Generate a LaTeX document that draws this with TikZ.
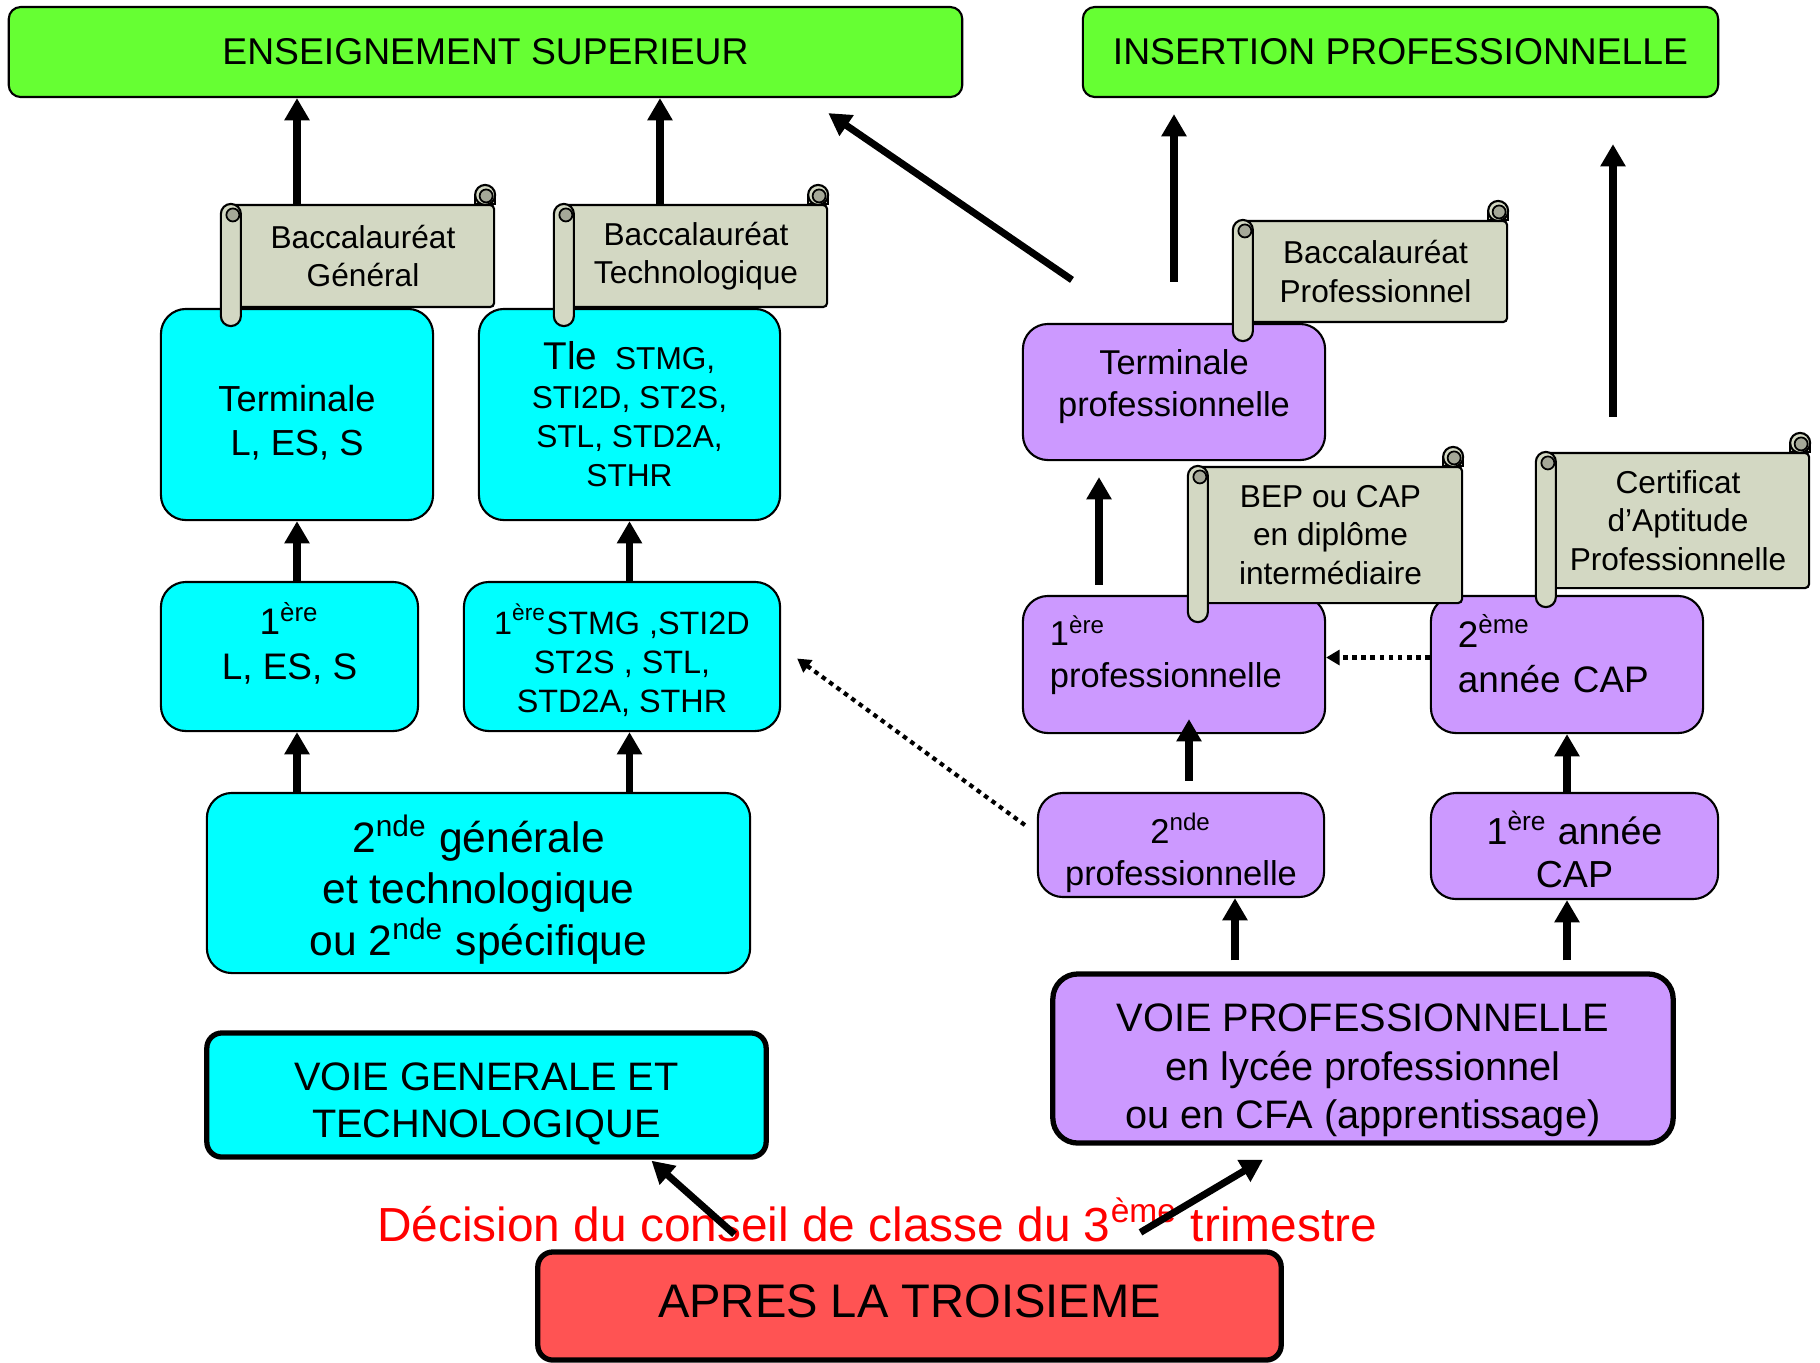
\documentclass[tikz,border=0pt]{standalone}
\usepackage{fontspec}
\setmainfont{Liberation Sans}
\usetikzlibrary{arrows.meta}
\definecolor{supgreen}{HTML}{66FF33}
\definecolor{gtcyan}{HTML}{00FFFF}
\definecolor{promauve}{HTML}{CC99FF}
\definecolor{paper}{HTML}{D3D8C3}
\definecolor{paperdark}{HTML}{A5A898}
\definecolor{startred}{HTML}{FF5353}

\newcommand{\nudge}[3][c]{\raisebox{#2}[\height][\depth]{\begin{tabular}{@{}#1@{}}#3\end{tabular}}}
\newcommand{\scrollroll}[1]{%
  \filldraw[fill=paper,line width=0.6pt,rounded corners=0.1cm] ([shift={(-10,0)}]#1.north west) rectangle ([shift={(10,18)}]#1.south west);
  \filldraw[fill=paperdark,line width=0.5pt] ([shift={(2,11)}]#1.north west) circle[radius=0.065cm];
  \filldraw[fill=paper,line width=0.6pt] ([shift={(-20,-9)}]#1.north east) rectangle (#1.north east);
  \filldraw[fill=paper,line width=0.6pt] ([shift={(-10,-9)}]#1.north east) circle[radius=0.1cm];
  \filldraw[fill=paperdark,line width=0.5pt] ([shift={(-9,-8)}]#1.north east) circle[radius=0.065cm];
}

\begin{document}
\begin{tikzpicture}[x=0.01cm,y=-0.01cm]
\tikzset{box/.style={draw,line width=0.6pt,rounded corners=0.25cm,align=center,inner sep=0pt},
    sz/.style 2 args={minimum width=#1cm,minimum height=#2cm},
    gt/.style={box,fill=gtcyan},
    pro/.style={box,fill=promauve},
    goal/.style={box,fill=supgreen,rounded corners=0.12cm,font=\fontsize{10.6}{12.7}\selectfont},
    diploma/.style={draw,line width=0.6pt,fill=paper,rounded corners=0.04cm,align=center,inner sep=0pt,font=\fontsize{9}{10.9}\selectfont},
    thickbox/.style={line width=1.5pt},
    upar/.style={line width=2pt,-{Triangle[length=6.3pt,width=6.8pt]}},
    dotar/.style={line width=1.2pt,dash pattern=on 1.3pt off 1.3pt,-{Triangle[length=3.8pt,width=4.2pt]}}}
\useasboundingbox (0,0) rectangle (1820,1362);
\node[goal,sz={9.53}{0.90}] (ens) at (485.5,52) {ENSEIGNEMENT SUPERIEUR};
\node[goal,sz={6.35}{0.90}] (ins) at (1400.5,52) {INSERTION PROFESSIONNELLE};
\node[gt,sz={2.72}{2.11},font=\fontsize{10.3}{12.5}\selectfont] (terml) at (297,414.5) {\nudge{-2.8pt}{Terminale\\L, ES, S}};
\node[gt,sz={3.01}{2.11},font=\fontsize{9}{11.1}\selectfont] (tlest) at (629.5,414.5) {{\fontsize{11}{13}\selectfont Tle}\ \ STMG,\\STI2D, ST2S,\\STL, STD2A,\\STHR};
\node[gt,sz={2.57}{1.49},font=\fontsize{10.5}{12.8}\selectfont] (prel) at (289.5,656.5) {\nudge{2.5pt}{1\textsuperscript{ère}\\L, ES, S}};
\node[gt,sz={3.16}{1.49},font=\fontsize{9.2}{11.1}\selectfont] (prest) at (622,656.5) {\nudge{-2.2pt}{1\textsuperscript{ère}STMG ,STI2D\\ST2S , STL,\\STD2A, STHR}};
\node[gt,sz={5.43}{1.80},font=\fontsize{12.1}{14.5}\selectfont] (snde) at (478.5,883) {\nudge{-2.8pt}{2\textsuperscript{nde} générale\\et technologique\\ou 2\textsuperscript{nde} spécifique}};
\node[gt,thickbox,rounded corners=0.15cm,sz={5.59}{1.24},font=\fontsize{11.3}{13.5}\selectfont] (vgen) at (486.5,1095) {\nudge{-2.7pt}{VOIE GENERALE ET\\TECHNOLOGIQUE}};
\node[box,thickbox,fill=startred,rounded corners=0.15cm,sz={7.43}{1.08},font=\fontsize{13.4}{16}\selectfont] (apres) at (909.5,1306) {\nudge{0pt}{APRES LA TROISIEME}};
\node[pro,thickbox,sz={6.20}{1.69},font=\fontsize{11.3}{13.7}\selectfont] (vpro) at (1363,1058.5) {\nudge{-3.4pt}{VOIE PROFESSIONNELLE\\en lycée professionnel\\ou en CFA (apprentissage)}};
\node[pro,sz={2.86}{1.04},font=\fontsize{9.8}{11.9}\selectfont] (sndp) at (1181,845) {\nudge{-3pt}{2\textsuperscript{nde}\\professionnelle}};
\node[pro,sz={2.87}{1.06},font=\fontsize{10.7}{12.3}\selectfont] (pcap) at (1574.5,846) {\nudge{-2.7pt}{1\textsuperscript{ère} année\\CAP}};
\node[pro,align=left,text width=2.48cm,inner xsep=0.27cm,minimum height=1.37cm,font=\fontsize{9.8}{11.8}\selectfont] (ppro) at (1174,664.5) {\nudge[l]{2pt}{1\textsuperscript{ère}\\professionnelle}};
\node[pro,align=left,text width=2.18cm,inner xsep=0.27cm,minimum height=1.37cm,font=\fontsize{10.5}{12.8}\selectfont] (dcap) at (1567,664.5) {\nudge[l]{1.2pt}{2\textsuperscript{ème}\\année CAP}};
\node[pro,sz={3.02}{1.36},font=\fontsize{9.8}{11.9}\selectfont] (tpro) at (1174,392) {\nudge{1.4pt}{Terminale\\professionnelle}};
\node[diploma,sz={2.62}{1.02}] (bacg) at (363,256) {Baccalauréat\\Général};
\scrollroll{bacg}
\node[diploma,sz={2.62}{1.02}] (bact) at (696,256) {Baccalauréat\\Technologique};
\scrollroll{bact}
\node[diploma,sz={2.63}{1.01}] (bacp) at (1375.5,271.5) {Baccalauréat\\Professionnel};
\scrollroll{bacp}
\node[diploma,sz={2.63}{1.36}] (bep) at (1330.5,535) {BEP ou CAP\\en diplôme\\intermédiaire};
\scrollroll{bep}
\node[diploma,sz={2.62}{1.35}] (capc) at (1678,520.5) {Certificat\\d’Aptitude\\Professionnelle};
\scrollroll{capc}
\node[text=red,anchor=base,font=\fontsize{13.6}{16}\selectfont] (conseil) at (877,1241) {Décision du conseil de classe du 3\textsuperscript{ème} trimestre};
\draw[upar] (terml.north |- bacg.north) -- (terml.north |- ens.south);
\draw[upar] ([xshift=-0.36cm]bact.north) -- ([xshift=-0.36cm]bact.north |- ens.south);
\draw[upar] ([shift={(-102,-43)}]tpro.north) -- ([shift={(-135,15)}]ens.south east);
\draw[upar] ([yshift=0.41cm]tpro.north) -- ([yshift=-0.16cm]tpro.north |- ins.south);
\coordinate (capup) at ([shift={(-65,-35)}]capc.north);
\draw[upar] (capup) -- ([yshift=-0.46cm]capup |- ins.south);
\draw[upar] (terml.south |- prel.north) -- (terml.south);
\draw[upar] (tlest.south |- prest.north) -- (tlest.south);
\draw[upar] (terml.south |- snde.north) -- (terml.south |- prel.south);
\draw[upar] (tlest.south |- snde.north) -- (tlest.south |- prest.south);
\draw[dotar] ([shift={(-12,-20)}]sndp.west) -- ([shift={(16,2)}]prest.east);
\draw[upar] ([shift={(-75,-10)}]ppro.north) -- ([shift={(-75,16)}]tpro.south);
\draw[upar] ([shift={(8,-11)}]sndp.north) -- ([shift={(15,-15)}]ppro.south);
\draw[dotar] ([yshift=0.07cm]dcap.west) -- ([yshift=0.07cm]ppro.east);
\draw[upar] (dcap.south |- pcap.north) -- (dcap.south);
\coordinate (vpleft) at ([shift={(-128,-11)}]vpro.north);
\draw[upar] (vpleft) -- (vpleft |- sndp.south);
\draw[upar] (dcap.south |- vpleft) -- (dcap.south |- pcap.south);
\draw[upar] ([shift={(-175,-15)}]apres.north) -- ([shift={(165,1)}]vgen.south);
\draw[upar] ([shift={(231,-17)}]apres.north) -- ([shift={(-100,14)}]vpro.south);
\end{tikzpicture}
\end{document}
